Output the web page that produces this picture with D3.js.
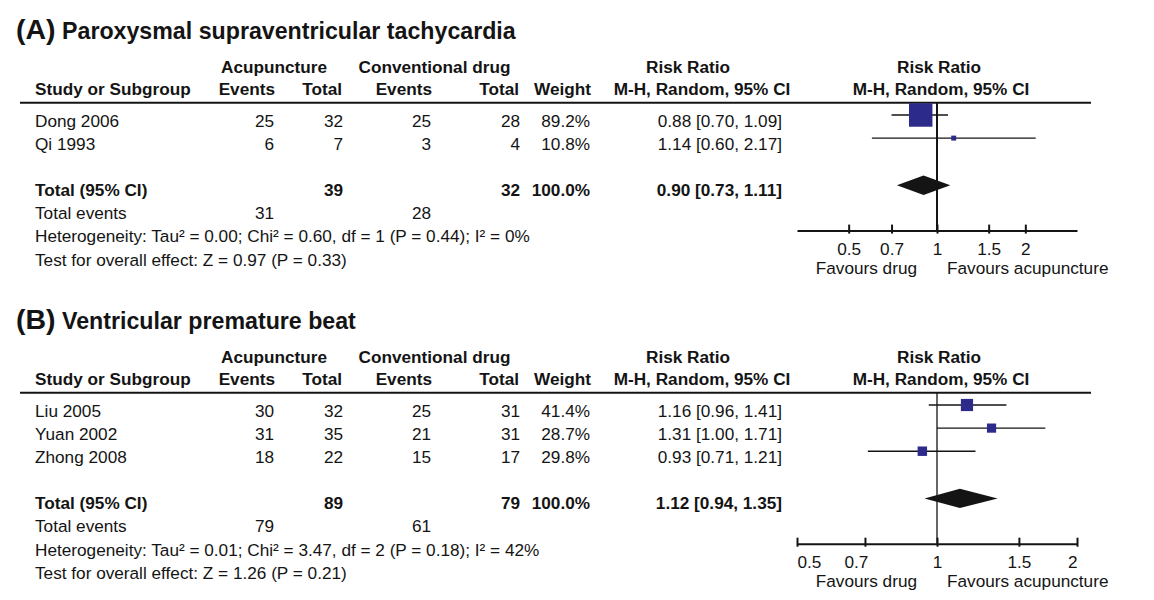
<!DOCTYPE html>
<html><head><meta charset="utf-8">
<script src="https://cdn.jsdelivr.net/npm/d3@7"></script>
<style>
body{margin:0;background:#fff}
svg{display:block}
text{font-family:"Liberation Sans",Arial,sans-serif;fill:#141414}
</style>
</head><body>
<svg id="chart" width="1154" height="600"></svg>
<script>
// ---------- DATA ----------
const panelTags = ["(A)", "(B)"];
const panelTitles = ["Paroxysmal supraventricular tachycardia", "Ventricular premature beat"];

const studiesA = ["Dong 2006", "Qi 1993"];
const acupEventsA = [25, 6];
const acupTotalA = [32, 7];
const drugEventsA = [25, 3];
const drugTotalA = [28, 4];
const weightA = [89.2, 10.8];
const rrA = [0.88, 1.14];
const lowA = [0.70, 0.60];
const highA = [1.09, 2.17];
const pooledA = [0.90, 0.73, 1.11];
const totalsA = [39, 32, 100.0];
const totalEventsA = [31, 28];
const hetA = "Heterogeneity: Tau² = 0.00; Chi² = 0.60, df = 1 (P = 0.44); I² = 0%";
const testA = "Test for overall effect: Z = 0.97 (P = 0.33)";
const domainA = [1/3, 3];

const studiesB = ["Liu 2005", "Yuan 2002", "Zhong 2008"];
const acupEventsB = [30, 31, 18];
const acupTotalB = [32, 35, 22];
const drugEventsB = [25, 21, 15];
const drugTotalB = [31, 31, 17];
const weightB = [41.4, 28.7, 29.8];
const rrB = [1.16, 1.31, 0.93];
const lowB = [0.96, 1.00, 0.71];
const highB = [1.41, 1.71, 1.21];
const pooledB = [1.12, 0.94, 1.35];
const totalsB = [89, 79, 100.0];
const totalEventsB = [79, 61];
const hetB = "Heterogeneity: Tau² = 0.01; Chi² = 3.47, df = 2 (P = 0.18); I² = 42%";
const testB = "Test for overall effect: Z = 1.26 (P = 0.21)";
const domainB = [0.5, 2];

const tickValues = [0.5, 0.7, 1, 1.5, 2];
const headerTop = ["Acupuncture", "Conventional drug", "Risk Ratio", "Risk Ratio"];
const headerBottom = ["Study or Subgroup", "Events", "Total", "Events", "Total", "Weight", "M-H, Random, 95% CI", "M-H, Random, 95% CI"];
const favourLabels = ["Favours drug", "Favours acupuncture"];

// ---------- DRAW ----------
const svg = d3.select("#chart");
const sqColor = "#2c2a8a";
const ink = "#141414";
const FS = "17.2px";
const sizeScale = d3.scaleLinear().domain([0, 100]).range([2.4, 26]);
const fmt2 = d3.format(".2f");

function drawPanel(p) {
  const g = svg.append("g").attr("transform", `translate(0,${p.lineY})`);
  // title
  const t = g.append("text").attr("x", 16).attr("y", -64).style("font-weight", "bold");
  t.append("tspan").style("font-size", "28.5px").text(p.tag);
  t.append("tspan").style("font-size", "23.2px").text(" " + p.title);

  // headers
  const topPos = [[221, "start"], [358.6, "start"], [688, "middle"], [939, "middle"]];
  headerTop.forEach((s, i) => {
    g.append("text").attr("x", topPos[i][0]).attr("y", -30).attr("text-anchor", topPos[i][1])
      .style("font-size", FS).style("font-weight", "bold").text(s);
  });
  const botPos = [[35, "start"], [275, "end"], [342, "end"], [432, "end"], [519, "end"], [591, "end"], [702, "middle"], [941, "middle"]];
  headerBottom.forEach((s, i) => {
    g.append("text").attr("x", botPos[i][0]).attr("y", -8).attr("text-anchor", botPos[i][1])
      .style("font-size", FS).style("font-weight", "bold").text(s);
  });
  g.append("line").attr("x1", 20).attr("x2", 1091).attr("y1", 0).attr("y2", 0)
    .attr("stroke", ink).attr("stroke-width", 2);

  const step = 23.1, first = 24.3;
  const n = p.studies.length;
  const rowY = i => first + i * step;
  const cols = [
    [p.acupEvents, 274], [p.acupTotal, 343], [p.drugEvents, 431], [p.drugTotal, 520]
  ];
  p.studies.forEach((s, i) => {
    const y = rowY(i);
    g.append("text").attr("x", 35).attr("y", y).style("font-size", FS).text(s);
    cols.forEach(([arr, x]) => {
      g.append("text").attr("x", x).attr("y", y).attr("text-anchor", "end").style("font-size", FS).text(arr[i]);
    });
    g.append("text").attr("x", 590).attr("y", y).attr("text-anchor", "end").style("font-size", FS)
      .text(p.weight[i].toFixed(1) + "%");
    g.append("text").attr("x", 782).attr("y", y).attr("text-anchor", "end").style("font-size", FS)
      .text(`${fmt2(p.rr[i])} [${fmt2(p.low[i])}, ${fmt2(p.high[i])}]`);
  });
  // total row
  const yT = rowY(n + 1);
  const bold = sel => sel.style("font-size", FS).style("font-weight", "bold");
  bold(g.append("text").attr("x", 35).attr("y", yT).text("Total (95% CI)"));
  bold(g.append("text").attr("x", 343).attr("y", yT).attr("text-anchor", "end").text(p.totals[0]));
  bold(g.append("text").attr("x", 520).attr("y", yT).attr("text-anchor", "end").text(p.totals[1]));
  bold(g.append("text").attr("x", 590).attr("y", yT).attr("text-anchor", "end").text(p.totals[2].toFixed(1) + "%"));
  bold(g.append("text").attr("x", 782).attr("y", yT).attr("text-anchor", "end")
    .text(`${fmt2(p.pooled[0])} [${fmt2(p.pooled[1])}, ${fmt2(p.pooled[2])}]`));
  const yE = rowY(n + 2);
  g.append("text").attr("x", 35).attr("y", yE).style("font-size", FS).text("Total events");
  g.append("text").attr("x", 274).attr("y", yE).attr("text-anchor", "end").style("font-size", FS).text(p.totalEvents[0]);
  g.append("text").attr("x", 431).attr("y", yE).attr("text-anchor", "end").style("font-size", FS).text(p.totalEvents[1]);
  g.append("text").attr("x", 35).attr("y", rowY(n + 3)).style("font-size", FS).text(p.het);
  const yTest = rowY(n + 4);
  g.append("text").attr("x", 35).attr("y", yTest).style("font-size", FS).text(p.test);

  // forest
  const x = d3.scaleLog().domain(p.domain).range([797, 1077]);
  const axisY = yTest - 35;
  g.append("line").attr("x1", x(1)).attr("x2", x(1)).attr("y1", 0).attr("y2", axisY)
    .attr("stroke", ink).attr("stroke-width", p.vWidth);
  p.studies.forEach((s, i) => {
    const cy = rowY(i) - 12;
    g.append("line").attr("x1", x(p.low[i])).attr("x2", x(p.high[i])).attr("y1", cy).attr("y2", cy)
      .attr("stroke", ink).attr("stroke-width", 1.4);
    const side = sizeScale(p.weight[i]);
    g.append("rect").attr("x", x(p.rr[i]) - side / 2).attr("y", cy - side / 2)
      .attr("width", side).attr("height", side).attr("fill", sqColor);
  });
  const dy = yT - 11, dh = 9.7;
  g.append("path").attr("d", d3.line()([
    [x(p.pooled[1]), dy], [x(p.pooled[0]), dy - dh], [x(p.pooled[2]), dy], [x(p.pooled[0]), dy + dh]
  ]) + "Z").attr("fill", ink);

  const axis = d3.axisBottom(x).tickValues(tickValues).tickFormat(d => String(d))
    .tickSizeInner(-6).tickSizeOuter(0).tickPadding(12);
  const ag = g.append("g").attr("transform", `translate(0,${axisY})`).call(axis);
  ag.select(".domain").attr("stroke", ink).attr("stroke-width", 2);
  ag.selectAll(".tick line").attr("stroke", ink).attr("stroke-width", 2).attr("y1", 3);
  ag.selectAll(".tick text").attr("fill", ink).style("font-size", FS)
    .style("font-family", '"Liberation Sans",Arial,sans-serif');
  if (p.edgeLabels) {
    const tt = ag.selectAll(".tick text");
    tt.filter((d, i) => i === 0).attr("text-anchor", "start").attr("dx", 0);
    tt.filter((d, i) => i === 1).attr("dx", -9);
    tt.filter((d, i, a) => i === a.length - 1).attr("text-anchor", "end");
  }
  g.append("text").attr("x", x(1) - 20).attr("y", axisY + 43).attr("text-anchor", "end")
    .style("font-size", FS).text(favourLabels[0]);
  g.append("text").attr("x", x(1) + 10).attr("y", axisY + 43).attr("text-anchor", "start")
    .style("font-size", FS).text(favourLabels[1]);
}

drawPanel({lineY: 102.7, tag: panelTags[0], title: panelTitles[0], studies: studiesA,
  acupEvents: acupEventsA, acupTotal: acupTotalA, drugEvents: drugEventsA, drugTotal: drugTotalA,
  weight: weightA, rr: rrA, low: lowA, high: highA, pooled: pooledA, totals: totalsA,
  totalEvents: totalEventsA, het: hetA, test: testA, domain: domainA, vWidth: 2, edgeLabels: false});
drawPanel({lineY: 392.7, tag: panelTags[1], title: panelTitles[1], studies: studiesB,
  acupEvents: acupEventsB, acupTotal: acupTotalB, drugEvents: drugEventsB, drugTotal: drugTotalB,
  weight: weightB, rr: rrB, low: lowB, high: highB, pooled: pooledB, totals: totalsB,
  totalEvents: totalEventsB, het: hetB, test: testB, domain: domainB, vWidth: 1.3, edgeLabels: true});
</script>
</body></html>
